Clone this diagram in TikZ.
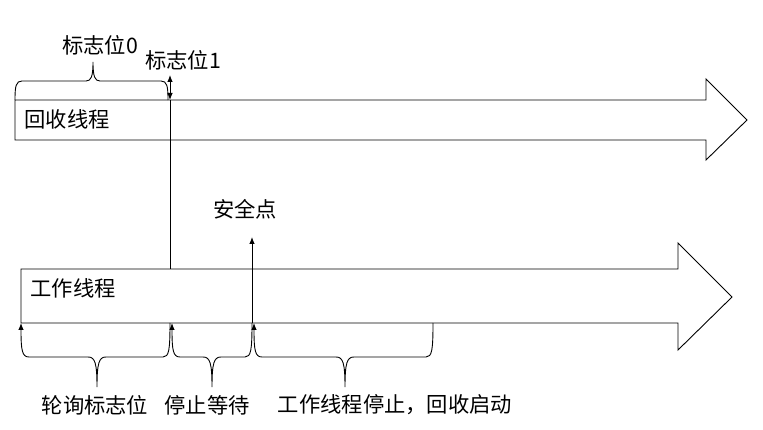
\documentclass[tikz,border=0pt]{standalone}
\usepackage{fontspec}
\newfontfamily\cjk{Noto Sans CJK SC}
\usetikzlibrary{arrows.meta}

\begin{document}
\begin{tikzpicture}[x=1pt,y=-1pt,
    line width=0.9pt,
    thread/.style={draw=black, fill=white, line join=miter},
    label/.style={font=\cjk\fontsize{21.3}{25}\selectfont, inner sep=0pt},
    tip/.style={-{Latex[length=7pt,width=5.5pt]}},
    bracetip/.style={{Latex[length=7pt,width=5.5pt]}-}]
      \useasboundingbox (0,0) rectangle (763,430);

      % 1. 两条线程的箭头
      \draw[thread] (15,100) -- (706,100) -- (706,79) -- (747,120) -- (706,160) -- (706,140) -- (15,140) -- cycle;
      \draw[thread] (21,269) -- (678,269) -- (678,243) -- (732,297) -- (678,350) -- (678,323) -- (21,323) -- cycle;

      % 2. 关键点
      \coordinate (F1top) at (170,75);
      \coordinate (F1) at (170,100);
      \coordinate (W1) at (170,269);
      \coordinate (S) at (252,323);
      \coordinate (Stop) at (252,237);

      % 3. 文字
      \node[label, anchor=west] (gc) at (24,119) {回收线程};
      \node[label, anchor=west] (work) at (30,288) {工作线程};
      \node[label] (flag0) at (100,45) {标志位0};
      \node[label] (flag1) at (183,60) {标志位1};
      \node[label] (safe) at (245,209) {安全点};
      \node[label] (poll) at (95,405) {轮询标志位};
      \node[label] (wait) at (207,405) {停止等待};
      \node[label] (start) at (395,405) {工作线程停止，回收启动};

      % 4. 竖线
      \draw (W1) -- (F1);
      \draw[{Latex[length=7pt,width=5.5pt]}-{Latex[length=7pt,width=5.5pt]}] (F1top) -- (F1);
      \draw[tip] (S) -- (Stop);

      % 5. 大括号
      \draw (15,100) .. controls (15,86) and (16,81) .. (22,81) -- (86,81)
            .. controls (91,81) and (93,77) .. (93,62)
            .. controls (93,77) and (95,81) .. (100,81) -- (161,81)
            .. controls (167,81) and (168,86) .. (168,100);
      \draw[bracetip] (21,323) .. controls (21,350) and (22,357) .. (29,357) -- (88,357)
            .. controls (95,357) and (97,363) .. (97,387)
            .. controls (97,363) and (99,357) .. (106,357) -- (163,357)
            .. controls (169,357) and (170,350) .. (170,323);
      \draw[bracetip] (172,323) .. controls (172,350) and (173,357) .. (180,357) -- (203,357)
            .. controls (210,357) and (212,363) .. (212,387)
            .. controls (212,363) and (214,357) .. (221,357) -- (245,357)
            .. controls (251,357) and (252,350) .. (252,323);
      \draw[bracetip] (254,323) .. controls (254,350) and (255,357) .. (262,357) -- (336,357)
            .. controls (343,357) and (345,363) .. (345,387)
            .. controls (345,363) and (347,357) .. (354,357) -- (426,357)
            .. controls (432,357) and (433,350) .. (433,323);
    \end{tikzpicture}
\end{document}
